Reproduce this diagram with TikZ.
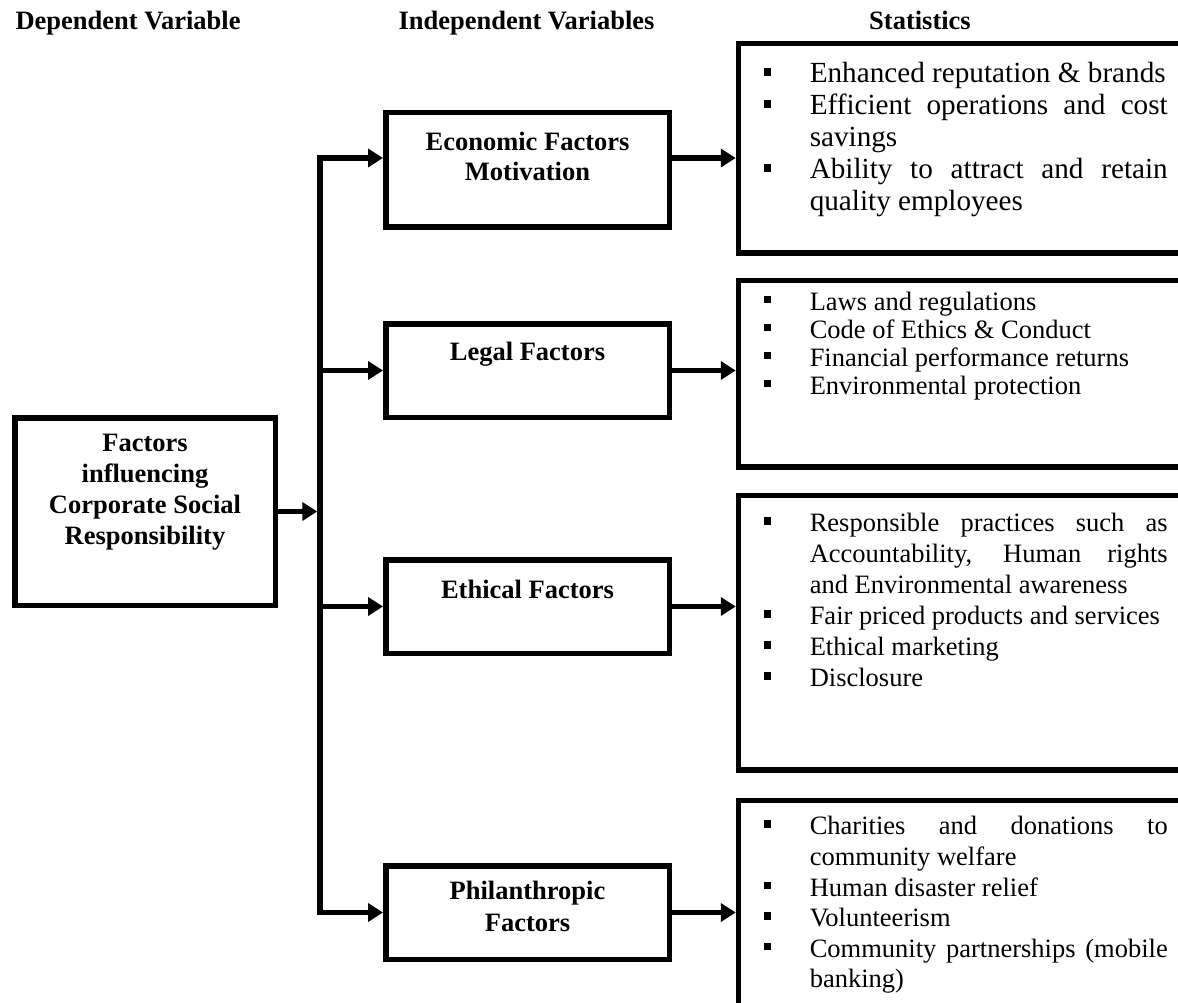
\documentclass[tikz,border=0pt]{standalone}
\usepackage{fontspec}
\setmainfont{Liberation Serif}
\usetikzlibrary{positioning, arrows.meta}

% box with its text set at the top
\newcommand{\topbox}[4]{\parbox[c][#1][t]{#2}{\vspace*{#3}\centering\strut #4}}
% statistics list
\newcommand{\statlist}[3]{\hspace*{25.25pt}\parbox[c][#1][t]{404pt}{\tolerance=10000\hyphenpenalty=10000\vspace*{#2}#3}\hspace*{40.75pt}}
\newcommand{\bitem}{\par\hangindent=46pt\hangafter=1\noindent\makebox[46pt][l]{\rule[7pt]{7.5pt}{7.5pt}}\strut}

\begin{document}
\begin{tikzpicture}[x=1pt, y=-1pt,
    >={Triangle[length=15pt, width=18pt]},
    box/.style={rectangle, draw=black, line width=5.5pt, inner sep=0pt,
                font=\bfseries\fontsize{26.5}{30}\selectfont},
    statbox/.style={rectangle, draw=black, line width=5.5pt, inner sep=0pt,
                anchor=north west, font=\fontsize{26.5}{31}\selectfont},
    arrow/.style={->, line width=5.5pt},
    head/.style={font=\bfseries\fontsize{26.5}{30}\selectfont, anchor=base}
]
    \useasboundingbox (0,0) rectangle (1178,1003);
    \clip (0,0) rectangle (1178,1003);

    % Headings
    \node[head, anchor=base west] (hdep) at (12,30) {Dependent Variable};
    \node[head, anchor=base west] (hind) at (395,30) {Independent Variables};
    \node[head] (hstat) at (920,30) {Statistics};

    % Dependent variable
    \node[box, font=\bfseries\fontsize{26.5}{31}\selectfont] (csr) at (145,511.5)
        {\topbox{187.5pt}{260.5pt}{12.5pt}{Factors\\influencing\\Corporate Social\\Responsibility}};

    % Independent variables
    \node[box] (econ) at (527.5,170) {\topbox{114.5pt}{283.5pt}{17pt}{Economic Factors\\Motivation}};
    \node[box] (legal) at (527.5,370.5) {\topbox{93.5pt}{283.5pt}{16pt}{Legal Factors}};
    \node[box] (ethic) at (527.5,606.5) {\topbox{93.5pt}{283.5pt}{18pt}{Ethical Factors}};
    \node[box, font=\bfseries\fontsize{26.5}{32}\selectfont] (phil) at (527.5,912.5)
        {\topbox{93.5pt}{283.5pt}{11pt}{Philanthropic\\Factors}};

    % Statistics
    \node[statbox, font=\fontsize{29.2}{32}\selectfont] (ecostat) at (735.75,40.75)
        {\statlist{209.5pt}{17pt}{%
            \bitem Enhanced reputation \& brands
            \bitem Efficient operations and cost\linebreak savings
            \bitem Ability to attract and retain\linebreak quality employees}};
    \node[statbox, font=\fontsize{26.5}{28}\selectfont] (legstat) at (735.75,277.75)
        {\statlist{186.5pt}{10pt}{%
            \bitem Laws and regulations
            \bitem Code of Ethics \& Conduct
            \bitem Financial performance returns
            \bitem Environmental protection}};
    \node[statbox] (ethstat) at (735.75,492.75)
        {\statlist{274.5pt}{14.5pt}{%
            \bitem Responsible practices such as\linebreak Accountability, Human rights\linebreak and Environmental awareness
            \bitem Fair priced products and services
            \bitem Ethical marketing
            \bitem Disclosure}};
    \node[statbox, font=\fontsize{26.5}{30.6}\selectfont] (philstat) at (735.75,797.75)
        {\statlist{260pt}{13pt}{%
            \bitem Charities and donations to\linebreak community welfare
            \bitem Human disaster relief
            \bitem Volunteerism
            \bitem Community partnerships (mobile\linebreak banking)}};

    % Arrows
    \coordinate (ecoy) at (320,158);
    \draw[arrow, shorten >=2.75pt] (csr.east) -- (csr.east -| ecoy);
    \draw[<->, line width=5.5pt] (ecoy -| econ.west) -- (ecoy) -- (ecoy |- phil.west) -- (phil.west);
    \draw[arrow] (ecoy |- legal.west) -- (legal.west);
    \draw[arrow] (ecoy |- ethic.west) -- (ethic.west);

    \draw[arrow] (ecoy -| econ.east) -- (ecoy -| ecostat.west);
    \draw[arrow] (legal.east) -- (legal.east -| legstat.west);
    \draw[arrow] (ethic.east) -- (ethic.east -| ethstat.west);
    \draw[arrow] (phil.east) -- (phil.east -| philstat.west);

\end{tikzpicture}
\end{document}
